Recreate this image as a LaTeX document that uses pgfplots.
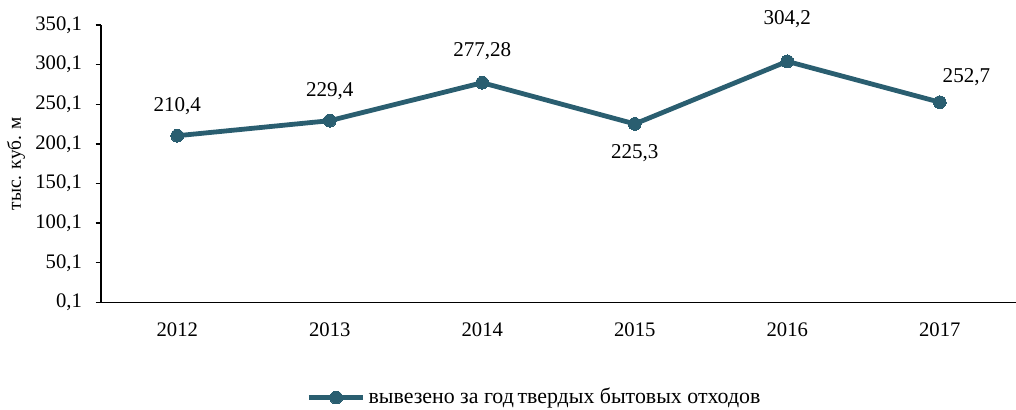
\documentclass[border=0pt]{standalone}
\usepackage{fontspec}
\setmainfont{Liberation Serif}
\usepackage{pgfplots}
\pgfplotsset{compat=1.18}
\definecolor{linecol}{RGB}{42,94,112}

\begin{document}
\fontsize{15.5}{18}\selectfont
\begin{tikzpicture}
\begin{axis}[
  scale only axis, width=686pt, height=208pt,
  xmin=-0.5, xmax=5.5, ymin=0.1, ymax=350.1,
  axis x line*=bottom, axis y line*=left,
  axis line style={-, line width=1.2pt},
  ytick={0.1,50.1,100.1,150.1,200.1,250.1,300.1,350.1},
  yticklabels={{0,1},{50,1},{100,1},{150,1},{200,1},{250,1},{300,1},{350,1}},
  xtick={0,1,2,3,4,5},
  xticklabels={2012,2013,2014,2015,2016,2017},
  extra x ticks={0.5,1.5,2.5,3.5,4.5},
  extra x tick labels={},
  extra x tick style={major tick length=5pt, tick style={line width=1pt, black}, tick align=outside},
  x tick style={draw=none},
  y tick style={line width=1pt, black},
  tick align=outside, major tick length=4pt,
  tick label style={font=\fontsize{15.5}{18}\selectfont},
  yticklabel style={xshift=-5pt},
  xticklabel style={yshift=-6pt},
  ylabel={тыс. куб. м},
  ylabel style={font=\fontsize{14.5}{17}\selectfont,
    at={(axis description cs:-0.093,0.5)}, anchor=center, rotate=0},
  legend style={at={(0.474,-0.343)}, anchor=center, draw=none, fill=none,
    legend cell align=left, inner sep=0pt,
    font=\fontsize{16.4}{19}\selectfont},
  legend image code/.code={
    \draw[#1, mark=none] (0pt,0pt) -- (41pt,0pt);
    \draw[#1] plot coordinates {(20.5pt,0pt)};},
  clip=false,
]
\addplot[linecol, line width=3.6pt, mark=*, mark size=4.8pt,
  mark options={solid, fill=linecol, draw=linecol, line width=0pt},
  point meta=explicit symbolic,
  nodes near coords,
  visualization depends on={\thisrow{dx} \as \dx},
  visualization depends on={\thisrow{dy} \as \dy},
  every node near coord/.append style={anchor=center, text=black,
    xshift=\dx pt, yshift=\dy pt, font=\fontsize{15.8}{18}\selectfont},
] table[x=x, y=y, meta=lbl] {
x y lbl dx dy
0 210.4 210,4 0 22
1 229.4 229,4 0 22
2 277.28 277,28 0 23.5
3 225.3 225,3 0 -22
4 304.2 304,2 0 32
5 252.7 252,7 20 18.5
};
\addlegendentry{вывезено за год\,твердых бытовых отходов}
\coordinate (bl) at (rel axis cs:0,0);
\coordinate (tr) at (rel axis cs:1,1);
\end{axis}
\pgfresetboundingbox
\useasboundingbox ([xshift=-75.75pt, yshift=-80.25pt]bl) rectangle ([yshift=18.75pt]tr);
\end{tikzpicture}
\end{document}
